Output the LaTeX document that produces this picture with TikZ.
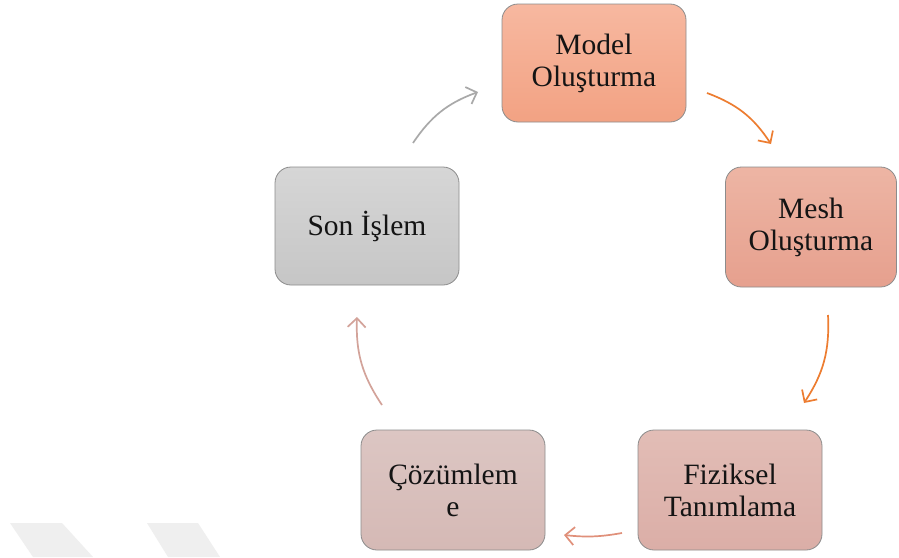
\documentclass[tikz,border=0pt]{standalone}
\usepackage{fontspec}
\setmainfont{Liberation Serif}
\usetikzlibrary{arrows.meta}
\definecolor{modeltop}{HTML}{F7B8A0}
\definecolor{modelbot}{HTML}{F2A283}
\definecolor{meshtop}{HTML}{EDB5A4}
\definecolor{meshbot}{HTML}{E6A08E}
\definecolor{fiztop}{HTML}{E2BDB6}
\definecolor{fizbot}{HTML}{DBAEA7}
\definecolor{coztop}{HTML}{DCC6C3}
\definecolor{cozbot}{HTML}{D5B9B5}
\definecolor{sontop}{HTML}{D6D6D6}
\definecolor{sonbot}{HTML}{C6C6C6}
\definecolor{arrorange}{HTML}{ED7D31}
\definecolor{arrsalmon}{HTML}{E0907A}
\definecolor{arrpink}{HTML}{D3A39A}
\definecolor{arrgray}{HTML}{A9A9A9}
\definecolor{wm}{HTML}{EFEFEF}
\tikzset{
  stagebox/.style={rectangle, rounded corners=16pt, draw=black!45, line width=0.8pt,
    minimum width=184pt, minimum height=118pt, align=center,
    font=\fontsize{29.5}{32}\selectfont, text=black!92},
  cyclearrow/.style={line width=1.7pt, -{Straight Barb[length=9pt,width=18pt,line width=1.7pt]}, bend left=18}
}
\begin{document}
\begin{tikzpicture}[x=1pt,y=-1pt]
\useasboundingbox (0,0) rectangle (899,557);
\fill[white] (0,0) rectangle (899,557);
% watermark chevrons
\fill[wm] (10,523) -- (62,523) -- (93,557) -- (33,557) -- cycle;
\fill[wm] (147,523) -- (198,523) -- (220,557) -- (168,557) -- cycle;
% boxes
\node[stagebox, top color=modeltop, bottom color=modelbot] (model) at (594,63) {Model\\Oluşturma};
\node[stagebox, top color=meshtop, bottom color=meshbot, minimum width=171pt, minimum height=120pt] (mesh) at (811,227) {Mesh\\Oluşturma};
\node[stagebox, top color=fiztop, bottom color=fizbot, minimum height=120pt] (fiz) at (730,490) {Fiziksel\\Tanımlama};
\node[stagebox, top color=coztop, bottom color=cozbot, minimum height=120pt] (coz) at (453,490) {Çözümlem\\e};
\node[stagebox, top color=sontop, bottom color=sonbot] (son) at (367,226) {Son İşlem};
% arrow end points
\coordinate (a1s) at (707,93);  \coordinate (a1e) at (771,144);
\coordinate (a2s) at (828,315); \coordinate (a2e) at (804,403);
\coordinate (a3s) at (622,533); \coordinate (a3e) at (564,535);
\coordinate (a4s) at (382,405); \coordinate (a4e) at (357,317);
\coordinate (a5s) at (413,143); \coordinate (a5e) at (478,92);
\draw[cyclearrow, draw=arrorange] (a1s) to (a1e);
\draw[cyclearrow, draw=arrorange] (a2s) to (a2e);
\draw[cyclearrow, draw=arrsalmon, bend left=8] (a3s) to (a3e);
\draw[cyclearrow, draw=arrpink] (a4s) to (a4e);
\draw[cyclearrow, draw=arrgray] (a5s) to (a5e);
\end{tikzpicture}
\end{document}
